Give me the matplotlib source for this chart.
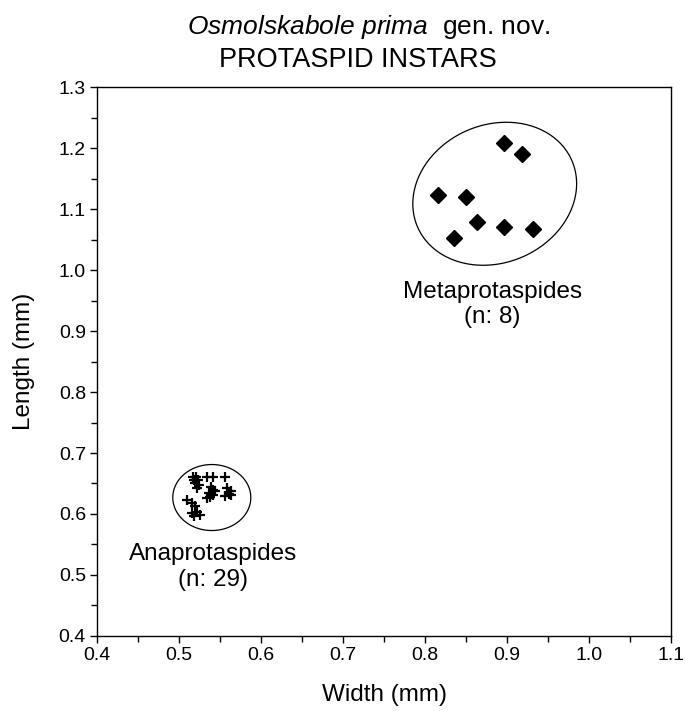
import numpy as np
import matplotlib
matplotlib.use('Agg')
import matplotlib.pyplot as plt
from matplotlib.ticker import MultipleLocator

plt.rcParams['font.family'] = ['Liberation Sans', 'DejaVu Sans']
plt.rcParams['mathtext.fontset'] = 'custom'
plt.rcParams['mathtext.rm'] = 'Liberation Sans'
plt.rcParams['mathtext.it'] = 'Liberation Sans:italic'

# Anaprotaspides (n: 29), width / length in mm
ana_width = [0.517, 0.521, 0.518, 0.523, 0.520, 0.524, 0.522, 0.534, 0.542, 0.556,
             0.539, 0.541, 0.536, 0.538, 0.542, 0.544, 0.534, 0.558, 0.563, 0.561,
             0.556, 0.564, 0.510, 0.516, 0.520, 0.516, 0.522, 0.518, 0.526]
ana_length = [0.660, 0.661, 0.656, 0.655, 0.650, 0.648, 0.643, 0.660, 0.660, 0.661,
              0.645, 0.639, 0.634, 0.628, 0.631, 0.637, 0.626, 0.642, 0.637, 0.633,
              0.629, 0.631, 0.623, 0.618, 0.613, 0.601, 0.604, 0.596, 0.598]

# Metaprotaspides (n: 8)
meta_width = [0.896, 0.918, 0.816, 0.850, 0.863, 0.896, 0.932, 0.835]
meta_length = [1.208, 1.190, 1.123, 1.120, 1.079, 1.070, 1.067, 1.052]

fig = plt.figure(figsize=(6.85, 7.11), dpi=100)
ax = fig.add_axes([0.1416, 0.1055, 0.838, 0.7721])

ax.plot(ana_width, ana_length, linestyle='none', marker='+', markersize=7,
        markeredgewidth=1.6, color='black')
ax.plot(meta_width, meta_length, linestyle='none', marker='D', markersize=8.5,
        color='black')

ax.set_xlim(0.4, 1.1)
ax.set_ylim(0.4, 1.3)

# outline ellipses, sized in pixels then converted to data units
px_x = 820.0
px_y = 610.0
t = np.linspace(0, 2 * np.pi, 300)

def outline(cx, cy, a, b, ang):
    th = np.radians(ang)
    dx = (a * np.cos(t) * np.cos(th) - b * np.sin(t) * np.sin(th)) / px_x
    dy = (a * np.cos(t) * np.sin(th) + b * np.sin(t) * np.cos(th)) / px_y
    ax.fill(cx + dx, cy + dy, fill=False, edgecolor='black', linewidth=0.9)

outline(0.885, 1.125, 84, 69, 23)
outline(0.540, 0.627, 39, 33, 0)

ax.text(0.882, 0.943, 'Metaprotaspides\n(n: 8)', ha='center', va='center',
        fontsize=17.5, linespacing=1.2)
ax.text(0.541, 0.513, 'Anaprotaspides\n(n: 29)', ha='center', va='center',
        fontsize=17.5, linespacing=1.2)

ax.xaxis.set_major_locator(MultipleLocator(0.1))
ax.xaxis.set_minor_locator(MultipleLocator(0.05))
ax.yaxis.set_major_locator(MultipleLocator(0.1))
ax.yaxis.set_minor_locator(MultipleLocator(0.05))
ax.xaxis.set_major_formatter(plt.FuncFormatter(lambda v, p: '%.1f' % v))
ax.yaxis.set_major_formatter(plt.FuncFormatter(lambda v, p: '%.1f' % v))
ax.tick_params(which='both', direction='out', top=False, right=False,
               labelsize=14, width=1.0, color='black', pad=3)
ax.tick_params(which='major', length=5)
ax.tick_params(which='minor', length=4)
for s in ax.spines.values():
    s.set_linewidth(1.0)

ax.set_xlabel('Width (mm)', fontsize=17.5, labelpad=14)
ax.set_ylabel('Length (mm)', fontsize=17.5, labelpad=17)

fig.text(369 / 685, 1 - 34 / 711, r'$\it{Osmolskabole\ prima}$  gen. nov.',
         ha='center', va='baseline', fontsize=19)
fig.text(358 / 685, 1 - 67 / 711, 'PROTASPID INSTARS', ha='center',
         va='baseline', fontsize=19.5)

fig.savefig('out.png', dpi=100)
